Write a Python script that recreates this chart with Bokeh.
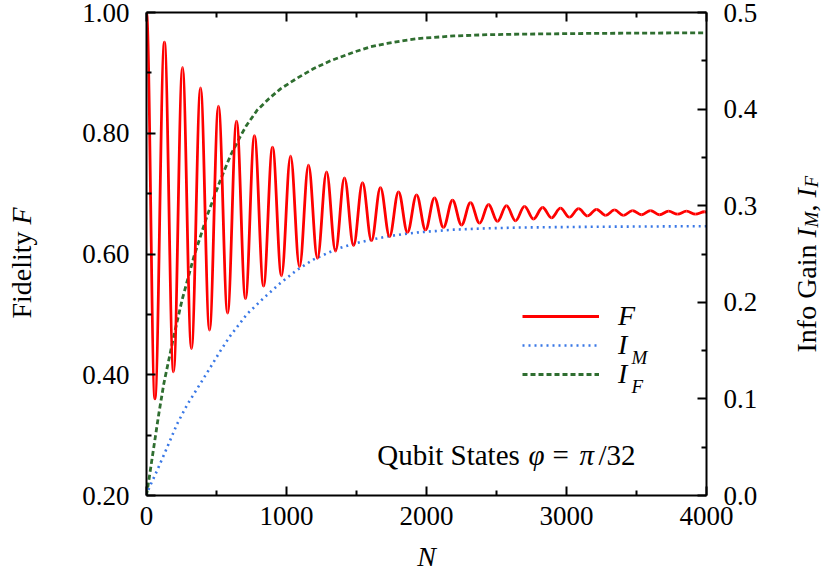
import math
from bokeh.plotting import figure
from bokeh.layouts import row
from bokeh.models import (Range1d, LinearAxis, FixedTicker, Label, Legend, LegendItem,
                          PrintfTickFormatter, CustomJSTickFormatter, ColumnDataSource)
from bokeh.embed import file_html
from bokeh.resources import INLINE

# ---------------- data ----------------
# Fidelity F: local maxima (peaks) and minima (troughs)
peak_n = [0, 128, 257, 386, 514, 643, 771, 900, 1029, 1157, 1286, 1414, 1543, 1671, 1800,
          1929, 2057, 2186, 2314, 2443, 2571, 2700, 2829, 2957, 3086, 3214, 3343, 3471,
          3600, 3729, 3857, 3986]
peak_f = [1.000, 0.951, 0.909, 0.875, 0.845, 0.820, 0.796, 0.777, 0.762, 0.747, 0.736,
          0.726, 0.718, 0.710, 0.703, 0.698, 0.693, 0.689, 0.685, 0.682, 0.680, 0.679,
          0.677, 0.676, 0.675, 0.674, 0.673, 0.672, 0.672, 0.671, 0.671, 0.670]
trough_n = [60, 193, 321, 450, 579, 707, 836, 964, 1093, 1221, 1350, 1479, 1607, 1736,
            1864, 1993, 2121, 2250, 2379, 2507, 2636, 2764, 2893, 3021, 3150, 3279, 3407,
            3536, 3664, 3793, 3921]
trough_f = [0.360, 0.405, 0.443, 0.474, 0.502, 0.526, 0.547, 0.564, 0.579, 0.593, 0.605,
            0.614, 0.622, 0.629, 0.636, 0.640, 0.644, 0.648, 0.651, 0.654, 0.655, 0.658,
            0.660, 0.661, 0.663, 0.664, 0.664, 0.665, 0.665, 0.666, 0.666]
end_n = [4000]
end_f = [0.669]

# Info gain I_M (blue dotted)
im_n = [0, 16, 76, 148, 219, 291, 398, 457, 529, 595, 719, 838, 957, 1076, 1195, 1362,
        1481, 1600, 1719, 1838, 1957, 2195, 2434, 2671, 3200, 4000]
im_v = [0.0, 0.0069, 0.0259, 0.050, 0.0742, 0.094, 0.119, 0.1328, 0.150, 0.1646, 0.188,
        0.2045, 0.220, 0.2335, 0.2445, 0.2554, 0.2606, 0.2647, 0.2681, 0.2707, 0.2726,
        0.2752, 0.2766, 0.2774, 0.2782, 0.2788]

# Info gain I_F (green dashed)
if_n = [0, 16, 52, 88, 124, 195, 255, 338, 434, 529, 600, 671, 714, 791, 876, 957, 1076,
        1195, 1314, 1481, 1600, 1719, 1838, 1957, 2195, 2434, 2671, 3200, 4000]
if_v = [0.0, 0.015, 0.050, 0.0846, 0.116, 0.165, 0.203, 0.247, 0.290, 0.327, 0.352,
        0.372, 0.383, 0.399, 0.411, 0.421, 0.432, 0.442, 0.450, 0.459, 0.4645, 0.468,
        0.471, 0.4733, 0.4757, 0.4770, 0.4776, 0.4784, 0.479]

x_ticks = [0, 1000, 2000, 3000, 4000]
x_minor = [500, 1500, 2500, 3500]
f_ticks = [0.2, 0.4, 0.6, 0.8, 1.0]
f_minor = [0.3, 0.5, 0.7, 0.9]
i_ticks = [0.0, 0.1, 0.2, 0.3, 0.4, 0.5]
i_minor = [0.05, 0.15, 0.25, 0.35, 0.45]

FONT = "Liberation Serif"
RED = "#ff0000"
BLUE = "#3a78e6"
GREEN = "#2f6e30"

H = 588
LW = 50   # width of the strip holding the left title
RW = 50   # width of the strip holding the right title
MW = 822 - LW - RW

# ---------------- main figure ----------------
p = figure(width=MW, height=H, output_backend="svg", toolbar_location=None,
           x_range=Range1d(0, 4000), y_range=Range1d(0.2, 1.0),
           min_border_left=146 - LW, min_border_right=116 - RW, min_border_top=12,
           min_border_bottom=93, x_axis_location=None, y_axis_location=None)
p.extra_y_ranges = {"info": Range1d(0.0, 0.5)}
p.xgrid.visible = False
p.ygrid.visible = False
p.outline_line_color = None
p.background_fill_color = "white"
p.border_fill_color = "white"


def style(ax, standoff=12):
    ax.axis_line_width = 2
    ax.axis_line_color = "black"
    ax.major_tick_in = 9
    ax.major_tick_out = 0
    ax.minor_tick_in = 5
    ax.minor_tick_out = 0
    ax.major_tick_line_width = 2
    ax.minor_tick_line_width = 2
    ax.major_label_text_font = FONT
    ax.major_label_text_font_size = "27px"
    ax.major_label_text_color = "black"
    ax.major_label_standoff = standoff


bottom = LinearAxis(ticker=FixedTicker(ticks=x_ticks, minor_ticks=x_minor),
                    formatter=PrintfTickFormatter(format="%d"),
                    axis_label="N")
style(bottom, standoff=11)
bottom.axis_label_text_font = FONT
bottom.axis_label_text_font_size = "28px"
bottom.axis_label_text_font_style = "italic"
bottom.axis_label_text_color = "black"
bottom.axis_label_standoff = 13
p.add_layout(bottom, "below")

top = LinearAxis(ticker=FixedTicker(ticks=x_ticks, minor_ticks=x_minor),
                 formatter=CustomJSTickFormatter(code="return ''"))
style(top, standoff=0)
top.major_label_text_font_size = "0px"
p.add_layout(top, "above")

left = LinearAxis(ticker=FixedTicker(ticks=f_ticks, minor_ticks=f_minor),
                  formatter=PrintfTickFormatter(format="%.2f"))
style(left, standoff=17)
p.add_layout(left, "left")

right = LinearAxis(y_range_name="info", ticker=FixedTicker(ticks=i_ticks, minor_ticks=i_minor),
                   formatter=PrintfTickFormatter(format="%.1f"))
style(right, standoff=17)
p.add_layout(right, "right")

# ---------------- curves ----------------
ext_n, ext_f = [], []
for i in range(len(peak_n)):
    ext_n.append(peak_n[i]); ext_f.append(peak_f[i])
    if i < len(trough_n):
        ext_n.append(trough_n[i]); ext_f.append(trough_f[i])
ext_n += end_n
ext_f += end_f

K = 0.3642  # cubic-Bezier handle for a half-cosine between two extrema
bz = dict(x0=[], y0=[], x1=[], y1=[], cx0=[], cy0=[], cx1=[], cy1=[])
for i in range(len(ext_n) - 1):
    a, b = ext_n[i], ext_n[i + 1]
    fa, fb = ext_f[i], ext_f[i + 1]
    bz["x0"].append(a); bz["y0"].append(fa)
    bz["x1"].append(b); bz["y1"].append(fb)
    bz["cx0"].append(a + K * (b - a)); bz["cy0"].append(fa)
    bz["cx1"].append(b - K * (b - a)); bz["cy1"].append(fb)

r_green = p.line(if_n, if_v, y_range_name="info", line_color=GREEN, line_width=2.8,
                 line_dash="5 3")
r_blue = p.line(im_n, im_v, y_range_name="info", line_color=BLUE, line_width=2.6,
                line_dash="2 4")
r_red = p.bezier(x0="x0", y0="y0", x1="x1", y1="y1", cx0="cx0", cy0="cy0", cx1="cx1",
                 cy1="cy1", source=ColumnDataSource(bz), line_color=RED, line_width=2.8)

# ---------------- legend (one box per entry, for exact row pitch) ----------------
for lbl, rend, ly in (("F", r_red, 163), ("I", r_blue, 134), ("I", r_green, 105)):
    p.add_layout(Legend(items=[LegendItem(label=lbl, renderers=[rend])],
                        location=(376, ly), orientation="vertical", glyph_width=77,
                        glyph_height=20, label_standoff=19, spacing=0, padding=0, margin=0,
                        border_line_color=None, background_fill_alpha=0,
                        label_text_font=FONT, label_text_font_style="italic",
                        label_text_font_size="28px", label_text_color="black"))


def lab(fig, text, x, y, size="28px", style="normal", angle=0.0, align="left",
        baseline="alphabetic"):
    fig.add_layout(Label(x=x, y=y, x_units="screen", y_units="screen", text=text,
                         text_font=FONT, text_font_size=size, text_font_style=style,
                         text_color="black", angle=angle, text_align=align,
                         text_baseline=baseline))


# legend subscripts (frame coordinates)
lab(p, "M", 485, 138, size="19px", style="italic")
lab(p, "F", 485, 109, size="19px", style="italic")

# annotation
lab(p, "Qubit States", 302, 41, size="29px", align="center")
lab(p, "φ", 382, 41, size="29px", style="italic")
lab(p, "=", 406, 41, size="29px")
lab(p, "π", 433, 41, size="29px", style="italic")
lab(p, "/32", 452, 41, size="29px")


def strip(width):
    f = figure(width=width, height=H, output_backend="svg", toolbar_location=None,
               x_range=Range1d(0, 1), y_range=Range1d(0, 1), min_border=0,
               x_axis_location=None, y_axis_location=None)
    f.xgrid.visible = False
    f.ygrid.visible = False
    f.outline_line_color = None
    f.background_fill_color = "white"
    f.border_fill_color = "white"
    return f


V = math.pi / 2
FB = 495  # canvas y of the (aligned) frame bottom
# left title: Fidelity F
lf = strip(LW)
lab(lf, "Fidelity", 21, FB - 318, angle=V)
lab(lf, "F", 21, FB - 224, angle=V, style="italic")

# right title: Info Gain I_M, I_F
rf = strip(RW)
bx = 806 - (822 - RW)
lab(rf, "Info Gain", bx, FB - 352, angle=V)
lab(rf, "I", bx, FB - 237, angle=V, style="italic")
lab(rf, "M", bx + 5, FB - 227, angle=V, style="italic", size="19px")
lab(rf, ",", bx, FB - 211, angle=V)
lab(rf, "I", bx, FB - 197, angle=V, style="italic")
lab(rf, "F", bx + 5, FB - 187, angle=V, style="italic", size="19px")

layout = row(lf, p, rf, spacing=0)
open("out.html", "w").write(file_html(layout, INLINE))
